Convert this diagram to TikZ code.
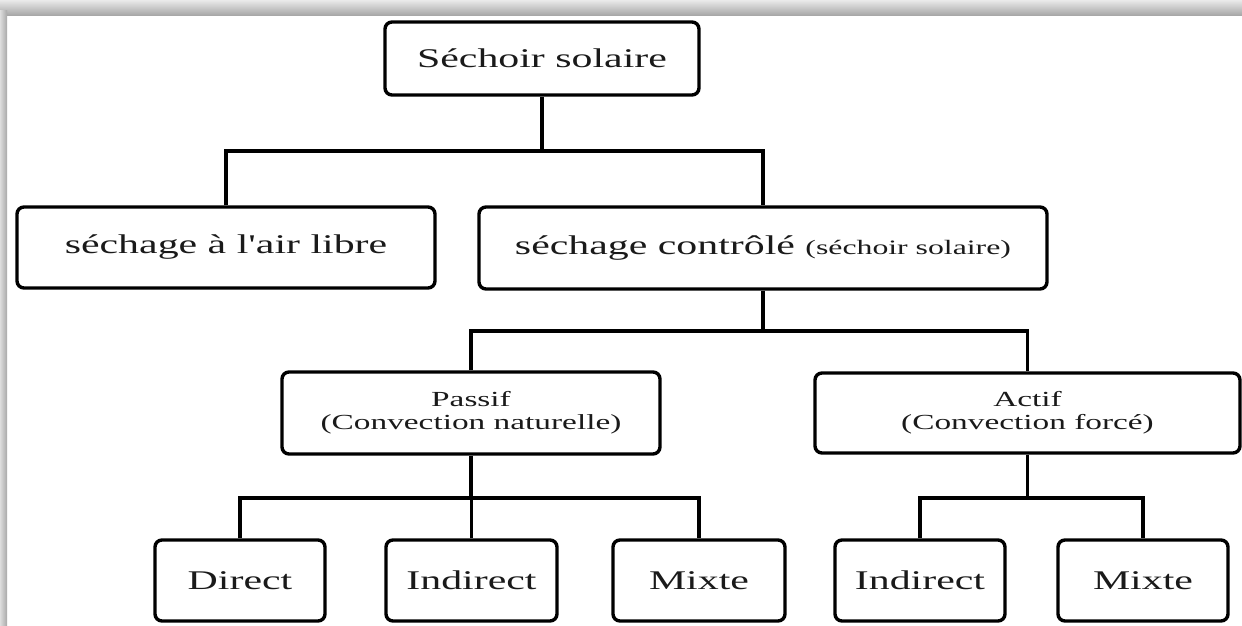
\documentclass[tikz,border=0pt]{standalone}
\usepackage{fontspec}
\setmainfont{Liberation Serif}
\usepackage{graphicx}
\definecolor{shadelight}{HTML}{EAEAEA}
\definecolor{shadedark}{HTML}{A8A8A8}
\definecolor{txt}{HTML}{1A1A1A}
\newcommand{\bigtxt}[1]{\scalebox{1.55}[1]{\fontsize{27}{30}\selectfont #1}}
\newcommand{\midtxt}[1]{\scalebox{1.55}[1]{\fontsize{21.5}{25}\selectfont #1}}
\tikzset{
  box/.style={draw=black, line width=3.4pt, rounded corners=7pt, inner sep=0pt,
              text=txt, align=center},
  conn/.style={draw=black, line width=3.4pt, line join=miter}
}
\begin{document}
\begin{tikzpicture}[x=1pt,y=-1pt]
\useasboundingbox (0,0) rectangle (1242,625);
\fill[white] (0,0) rectangle (1242,625);
% shadow frame
\shade[top color=shadelight, bottom color=shadedark] (0,0) rectangle (1242,15);
\shade[left color=shadelight!80!shadedark, right color=shadedark] (0,10) rectangle (7,625);

% nodes
\node[box, minimum width=314pt, minimum height=73pt] (top) at (542,58.5) {\bigtxt{Séchoir solaire}};
\node[box, minimum width=418pt, minimum height=81pt] (left) at (226,247.5) {\bigtxt{séchage à l\textquotesingle air libre}};
\node[box, minimum width=568pt, minimum height=82pt] (right) at (763,248) {\scalebox{1.55}[1]{\fontsize{27}{30}\selectfont séchage contrôlé {\fontsize{20.5}{22}\selectfont (séchoir solaire)}}};
\node[box, minimum width=378pt, minimum height=82pt] (passif) at (471,413) {\midtxt{\begin{tabular}{@{}c@{}}Passif\\[-2pt](Convection naturelle)\end{tabular}}};
\node[box, minimum width=425pt, minimum height=80pt] (actif) at (1027.5,413) {\midtxt{\begin{tabular}{@{}c@{}}Actif\\[-2pt](Convection forcé)\end{tabular}}};
\node[box, minimum width=170pt, minimum height=81pt] (direct) at (240,580.5) {\bigtxt{Direct}};
\node[box, minimum width=171pt, minimum height=81pt] (indA) at (471.5,580.5) {\bigtxt{Indirect}};
\node[box, minimum width=172pt, minimum height=81pt] (mixA) at (699,580.5) {\bigtxt{Mixte}};
\node[box, minimum width=170pt, minimum height=81pt] (indB) at (920,580.5) {\bigtxt{Indirect}};
\node[box, minimum width=170pt, minimum height=81pt] (mixB) at (1143,580.5) {\bigtxt{Mixte}};

% bus coordinates
\coordinate (b1) at (0,151);
\coordinate (b2) at (0,331);
\coordinate (b3) at (0,498);

% connectors level 1
\draw[conn] (top.south) -- (top.south |- b1);
\draw[conn] (left.north) -- (left.north |- b1) -- (right.north |- b1) -- (right.north);
% level 2
\draw[conn] (right.south) -- (right.south |- b2);
\draw[conn] (passif.north) -- (passif.north |- b2) -- (actif.north |- b2) -- (actif.north);
% level 3 (passif)
\draw[conn] (passif.south) -- (passif.south |- b3);
\draw[conn] (direct.north) -- (direct.north |- b3) -- (mixA.north |- b3) -- (mixA.north);
\draw[conn] (indA.north) -- (indA.north |- b3);
% level 3 (actif)
\draw[conn] (actif.south) -- (actif.south |- b3);
\draw[conn] (indB.north) -- (indB.north |- b3) -- (mixB.north |- b3) -- (mixB.north);
\end{tikzpicture}
\end{document}
